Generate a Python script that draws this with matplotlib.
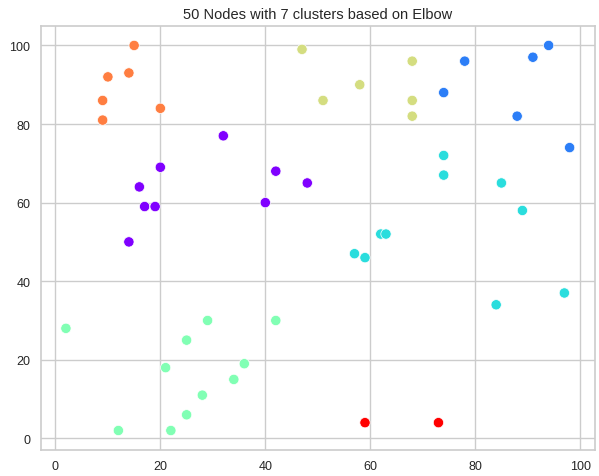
import numpy as np
import matplotlib
matplotlib.use("Agg")
import matplotlib.pyplot as plt
import seaborn as sns

sns.set_style("whitegrid")
plt.rcParams['font.family'] = ['Liberation Sans', 'DejaVu Sans']

# node coordinates and their cluster label (0..6)
x_vals = [9, 9, 10, 14, 15, 20,
          14, 16, 17, 19, 20, 32, 40, 42, 48,
          2, 12, 21, 22, 25, 25, 28, 29, 34, 36, 42,
          47, 51, 58, 68, 68, 68,
          74, 78, 88, 91, 94, 98,
          57, 59, 62, 63, 74, 74, 84, 85, 89, 97,
          59, 73]
y_vals = [86, 81, 92, 93, 100, 84,
          50, 64, 59, 59, 69, 77, 60, 68, 65,
          28, 2, 18, 2, 25, 6, 11, 30, 15, 19, 30,
          99, 86, 90, 96, 86, 82,
          88, 96, 82, 97, 100, 74,
          47, 46, 52, 52, 72, 67, 34, 65, 58, 37,
          4, 4]
labels = [5] * 6 + [0] * 9 + [3] * 11 + [4] * 6 + [1] * 6 + [2] * 10 + [6] * 2

fig = plt.figure(figsize=(5.99, 4.77), dpi=100)
ax = fig.add_axes([0.068, 0.055, 0.925, 0.888])

ax.scatter(x_vals, y_vals, c=labels, cmap='rainbow', s=55,
           edgecolors='white', linewidths=0.5)

ax.set_title('50 Nodes with 7 clusters based on Elbow', fontsize=10.5, color='#262626')
ax.tick_params(labelsize=9, colors='#262626', pad=4)
for sp in ax.spines.values():
    sp.set_color('#cccccc')
    sp.set_linewidth(1.2)
ax.grid(color='#cccccc', linewidth=1)

fig.savefig('out.png', dpi=100, facecolor='white')
